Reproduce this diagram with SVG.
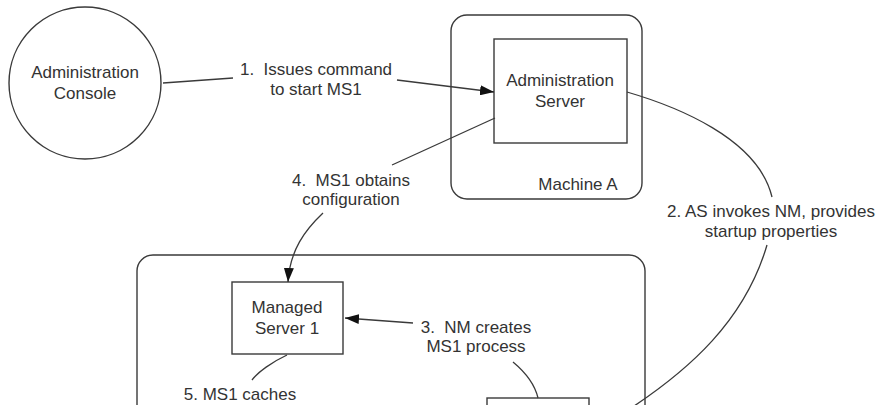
<svg xmlns="http://www.w3.org/2000/svg" width="882" height="405" viewBox="0 0 882 405">
<style>
.s{fill:#fff;stroke:#3a3a3a;stroke-width:1.4}
.c{fill:none;stroke:#3a3a3a;stroke-width:1.3}
text{font-family:"Liberation Sans",Arial,sans-serif;font-size:17px;fill:#333;text-anchor:middle}
</style>
<defs>
<marker id="ah" viewBox="0 0 14 10" refX="14" refY="5" markerWidth="14" markerHeight="10" markerUnits="userSpaceOnUse" orient="auto">
<path d="M0,0L14,5L0,10z" fill="#111"/>
</marker>
</defs>
<rect width="882" height="405" fill="#fff"/>
<g id="machineA"><rect class="s" x="451" y="15" width="191" height="184" rx="16"/><text x="578" y="190">Machine A</text></g>
<g id="machineB"><rect class="s" x="137" y="255" width="508" height="170" rx="16"/></g>
<g id="console"><circle class="s" cx="85" cy="83" r="76"/><text x="85" y="78">Administration</text><text x="85" y="99">Console</text></g>
<g id="adminServer"><rect class="s" x="494" y="39" width="133" height="104"/><text x="560" y="86">Administration</text><text x="560" y="107">Server</text></g>
<g id="managedServer"><rect class="s" x="232" y="282" width="111" height="72"/><text x="287" y="313">Managed</text><text x="287" y="334">Server 1</text></g>
<g id="nodeManager"><rect class="s" x="487" y="398" width="102" height="30"/></g>
<g id="connectors">
<path class="c" d="M163,83L233,78"/>
<path class="c" d="M397,80L494,92" marker-end="url(#ah)"/>
<path class="c" d="M627,92C675,106 758,138 772,197"/>
<path class="c" d="M767,245C745,320 690,370 625,412"/>
<path class="c" d="M413,323L345,318" marker-end="url(#ah)"/>
<path class="c" d="M495,118L392,165"/>
<path class="c" d="M323,213C305,230 290,250 288,282" marker-end="url(#ah)"/>
<path class="c" d="M287,355C272,362 258,372 252,380"/>
<path class="c" d="M513,362C525,372 535,385 538,398"/>
</g>
<g id="labels">
<text x="316" y="75">1.&#160; Issues command</text>
<text x="316" y="95">to start MS1</text>
<text x="771" y="217">2. AS invokes NM, provides</text>
<text x="771" y="237">startup properties</text>
<text x="476" y="333">3.&#160; NM creates</text>
<text x="476" y="352">MS1 process</text>
<text x="351" y="186">4.&#160; MS1 obtains</text>
<text x="351" y="205">configuration</text>
<text x="240" y="400">5. MS1 caches</text>
</g>
</svg>
